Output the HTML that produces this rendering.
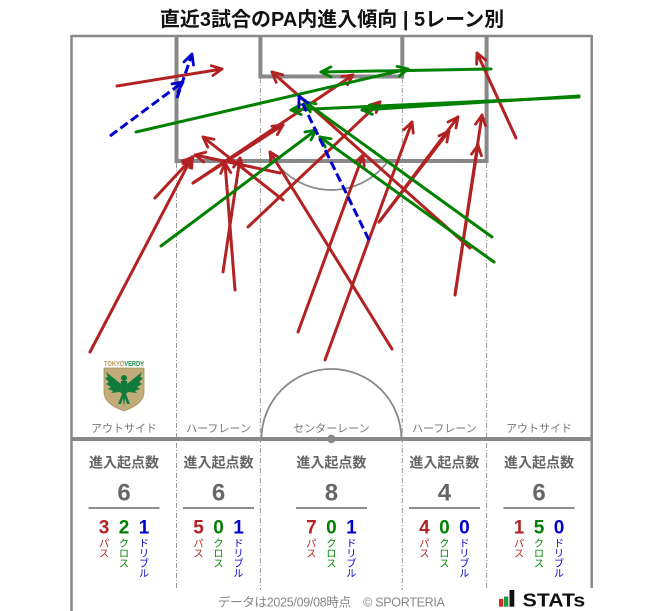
<!DOCTYPE html>
<html>
<head>
<meta charset="utf-8">
<style>
  html,body{margin:0;padding:0;background:#fff;}
  body{width:663px;height:611px;overflow:hidden;}
  svg{display:block;}
  .t{font-family:"Liberation Sans","Noto Sans CJK JP",sans-serif;}
</style>
</head>
<body>
<svg width="663" height="611" viewBox="0 0 663 611" xmlns="http://www.w3.org/2000/svg">
  <defs>
    <marker id="mr" viewBox="0 0 12 12" refX="11" refY="6" markerWidth="12" markerHeight="12" markerUnits="userSpaceOnUse" orient="auto" overflow="visible">
      <path d="M1,1 L11,6 L1,11" fill="none" stroke="#b22222" stroke-width="2.8" stroke-linecap="round" stroke-linejoin="round"/>
    </marker>
    <marker id="mg" viewBox="0 0 12 12" refX="11" refY="6" markerWidth="12" markerHeight="12" markerUnits="userSpaceOnUse" orient="auto" overflow="visible">
      <path d="M1,1 L11,6 L1,11" fill="none" stroke="#008000" stroke-width="2.8" stroke-linecap="round" stroke-linejoin="round"/>
    </marker>
    <marker id="mb" viewBox="0 0 12 12" refX="11" refY="6" markerWidth="12" markerHeight="12" markerUnits="userSpaceOnUse" orient="auto" overflow="visible">
      <path d="M1,1 L11,6 L1,11" fill="none" stroke="#0000cd" stroke-width="2.8" stroke-linecap="round" stroke-linejoin="round"/>
    </marker>
  </defs>

  <!-- Title -->
  <text class="t" x="332" y="26" text-anchor="middle" font-size="20" font-weight="bold" fill="#111">直近3試合のPA内進入傾向 | 5レーン別</text>

  <!-- lane dash-dot lines -->
  <g stroke="#9a9a9a" stroke-width="1" stroke-dasharray="5 2 1 2" fill="none">
    <line x1="176.5" y1="163" x2="176.5" y2="590"/>
    <line x1="260.4" y1="78" x2="260.4" y2="590"/>
    <line x1="402.3" y1="78" x2="402.3" y2="590"/>
    <line x1="486.6" y1="163" x2="486.6" y2="590"/>
  </g>

  <!-- pitch outline -->
  <g stroke="#888" fill="none">
    <line x1="71.5" y1="36" x2="591.7" y2="36" stroke-width="2.5"/>
    <line x1="71.5" y1="35" x2="71.5" y2="611" stroke-width="2.5"/>
    <line x1="591.7" y1="35" x2="591.7" y2="588" stroke-width="2.5"/>
    <path d="M176.5,36 V161 H486.6 V36" stroke-width="4"/>
    <path d="M260.4,36 V76.5 H402.3 V36" stroke-width="4"/>
    <path d="M274.7,161 A70,70 0 0 0 388.1,161" stroke-width="1.8"/>
    <line x1="71.5" y1="439" x2="591.7" y2="439" stroke-width="4"/>
    <path d="M261.4,439 A70,70 0 0 1 401.4,439" stroke-width="1.8"/>
  </g>
  <circle cx="331.4" cy="439" r="4.2" fill="#888"/>

  <!-- lane labels -->
  <g class="t" font-size="11" fill="#777" text-anchor="middle">
    <text x="124" y="432">アウトサイド</text>
    <text x="218.5" y="432">ハーフレーン</text>
    <text x="331.4" y="432">センターレーン</text>
    <text x="444.4" y="432">ハーフレーン</text>
    <text x="539" y="432">アウトサイド</text>
  </g>

  <!-- Tokyo Verdy crest -->
  <g>
    <text x="104" y="366" font-family="Liberation Sans, sans-serif" font-size="7.2" font-weight="bold" textLength="40" lengthAdjust="spacingAndGlyphs"><tspan fill="#b59a5a">TOKYO</tspan><tspan fill="#1f8f4a">VERDY</tspan></text>
    <path d="M104,368 L144,368 L144,392 Q144,404 124,411 Q104,404 104,392 Z" fill="#c2ad7a" stroke="#a8925c" stroke-width="0.8"/>
    <g fill="#0f7a3a">
      <circle cx="124" cy="378" r="3"/>
      <path d="M121,381 L127,381 L128,392 L124,396 L120,392 Z"/>
      <path d="M121,384 L106,372 L108,377 L105,378 L109,382 L106,384 L111,387 L108,389 L113,391 L111,393 L120,392 Z"/>
      <path d="M127,384 L142,372 L140,377 L143,378 L139,382 L142,384 L137,387 L140,389 L135,391 L137,393 L128,392 Z"/>
      <path d="M122,394 L118,404 L121,404 L123,398 L124,407 L125,398 L127,404 L130,404 L126,394 Z"/>
    </g>
  </g>

  <!-- Red passes -->
  <g stroke="#b22222" stroke-width="3" stroke-linecap="round" fill="none" marker-end="url(#mr)">
    <line x1="117" y1="86" x2="222" y2="69"/>
    <line x1="90" y1="352" x2="192" y2="157"/>
    <line x1="155" y1="198" x2="193" y2="157"/>
    <line x1="516" y1="138" x2="477" y2="53"/>
    <line x1="325" y1="360" x2="412" y2="122"/>
    <line x1="298" y1="332" x2="363" y2="155"/>
    <line x1="392" y1="349" x2="270" y2="152"/>
    <line x1="379" y1="222" x2="458" y2="117"/>
    <line x1="380" y1="221" x2="449" y2="131"/>
    <line x1="283" y1="200" x2="203" y2="137"/>
    <line x1="280" y1="173" x2="195" y2="155"/>
    <line x1="248" y1="227" x2="380" y2="102"/>
    <line x1="193" y1="183" x2="283" y2="125"/>
    <line x1="193" y1="183" x2="353" y2="75"/>
    <line x1="223" y1="272" x2="240" y2="158"/>
    <line x1="235" y1="290" x2="225" y2="163"/>
    <line x1="470" y1="248" x2="272" y2="72"/>
    <line x1="455" y1="295" x2="478" y2="145"/>
    <line x1="455" y1="295" x2="482" y2="115"/>
  </g>

  <!-- Green crosses -->
  <g stroke="#008000" stroke-width="3" stroke-linecap="round" fill="none" marker-end="url(#mg)">
    <line x1="136" y1="132" x2="408" y2="69"/>
    <line x1="161" y1="246" x2="316" y2="130"/>
    <line x1="491" y1="69" x2="321" y2="72"/>
    <line x1="579" y1="96" x2="362" y2="110"/>
    <line x1="579" y1="97" x2="291" y2="110"/>
    <line x1="492" y1="237" x2="305" y2="102"/>
    <line x1="494" y1="262" x2="320" y2="137"/>
  </g>

  <!-- Blue dribbles -->
  <g stroke="#0000cd" stroke-width="3" stroke-dasharray="9 4" fill="none" marker-end="url(#mb)">
    <line x1="110" y1="136" x2="183" y2="82"/>
    <line x1="177" y1="98" x2="192" y2="54"/>
    <line x1="369" y1="240" x2="299" y2="96"/>
  </g>

  <!-- Stats -->
  <g class="t" text-anchor="middle">
    <g font-size="14" font-weight="bold" fill="#666">
      <text x="124" y="467.5">進入起点数</text>
      <text x="218.5" y="467.5">進入起点数</text>
      <text x="331.4" y="467.5">進入起点数</text>
      <text x="444.4" y="467.5">進入起点数</text>
      <text x="539" y="467.5">進入起点数</text>
    </g>
    <g font-size="24" font-weight="bold" fill="#666">
      <text x="124" y="500.5">6</text>
      <text x="218.5" y="500.5">6</text>
      <text x="331.4" y="500.5">8</text>
      <text x="444.4" y="500.5">4</text>
      <text x="539" y="500.5">6</text>
    </g>
    <g stroke="#666" stroke-width="1.5">
      <line x1="88.5" y1="508" x2="159.5" y2="508"/>
      <line x1="183" y1="508" x2="254" y2="508"/>
      <line x1="296" y1="508" x2="367" y2="508"/>
      <line x1="409" y1="508" x2="480" y2="508"/>
      <line x1="503.5" y1="508" x2="574.5" y2="508"/>
    </g>
    <g font-size="19" font-weight="bold">
      <text x="104" y="533.5" fill="#b22222">3</text>
      <text x="124" y="533.5" fill="#008000">2</text>
      <text x="144" y="533.5" fill="#0000cd">1</text>

      <text x="198.5" y="533.5" fill="#b22222">5</text>
      <text x="218.5" y="533.5" fill="#008000">0</text>
      <text x="238.5" y="533.5" fill="#0000cd">1</text>

      <text x="311.4" y="533.5" fill="#b22222">7</text>
      <text x="331.4" y="533.5" fill="#008000">0</text>
      <text x="351.4" y="533.5" fill="#0000cd">1</text>

      <text x="424.4" y="533.5" fill="#b22222">4</text>
      <text x="444.4" y="533.5" fill="#008000">0</text>
      <text x="464.4" y="533.5" fill="#0000cd">0</text>

      <text x="519" y="533.5" fill="#b22222">1</text>
      <text x="539" y="533.5" fill="#008000">5</text>
      <text x="559" y="533.5" fill="#0000cd">0</text>
    </g>
    <g font-size="10">
      <!-- lane 1 -->
      <g fill="#b22222"><text x="104" y="547">パ</text><text x="104" y="557">ス</text></g>
      <g fill="#008000"><text x="124" y="547">ク</text><text x="124" y="557">ロ</text><text x="124" y="567">ス</text></g>
      <g fill="#0000cd"><text x="144" y="547">ド</text><text x="144" y="557">リ</text><text x="144" y="567">ブ</text><text x="144" y="577">ル</text></g>
      <!-- lane 2 -->
      <g fill="#b22222"><text x="198.5" y="547">パ</text><text x="198.5" y="557">ス</text></g>
      <g fill="#008000"><text x="218.5" y="547">ク</text><text x="218.5" y="557">ロ</text><text x="218.5" y="567">ス</text></g>
      <g fill="#0000cd"><text x="238.5" y="547">ド</text><text x="238.5" y="557">リ</text><text x="238.5" y="567">ブ</text><text x="238.5" y="577">ル</text></g>
      <!-- lane 3 -->
      <g fill="#b22222"><text x="311.4" y="547">パ</text><text x="311.4" y="557">ス</text></g>
      <g fill="#008000"><text x="331.4" y="547">ク</text><text x="331.4" y="557">ロ</text><text x="331.4" y="567">ス</text></g>
      <g fill="#0000cd"><text x="351.4" y="547">ド</text><text x="351.4" y="557">リ</text><text x="351.4" y="567">ブ</text><text x="351.4" y="577">ル</text></g>
      <!-- lane 4 -->
      <g fill="#b22222"><text x="424.4" y="547">パ</text><text x="424.4" y="557">ス</text></g>
      <g fill="#008000"><text x="444.4" y="547">ク</text><text x="444.4" y="557">ロ</text><text x="444.4" y="567">ス</text></g>
      <g fill="#0000cd"><text x="464.4" y="547">ド</text><text x="464.4" y="557">リ</text><text x="464.4" y="567">ブ</text><text x="464.4" y="577">ル</text></g>
      <!-- lane 5 -->
      <g fill="#b22222"><text x="519" y="547">パ</text><text x="519" y="557">ス</text></g>
      <g fill="#008000"><text x="539" y="547">ク</text><text x="539" y="557">ロ</text><text x="539" y="567">ス</text></g>
      <g fill="#0000cd"><text x="559" y="547">ド</text><text x="559" y="557">リ</text><text x="559" y="567">ブ</text><text x="559" y="577">ル</text></g>
    </g>
  </g>

  <!-- Footer -->
  <text class="t" x="331.4" y="606.5" text-anchor="middle" font-size="12.5" fill="#888" textLength="227" lengthAdjust="spacing">データは2025/09/08時点　© SPORTERIA</text>

  <!-- STATs logo -->
  <rect x="499" y="599" width="4.3" height="7.7" fill="#d42a2a"/>
  <rect x="504" y="596.5" width="4.3" height="10.2" fill="#1f9a3a"/>
  <rect x="509.5" y="590" width="4.8" height="16.7" fill="#111"/>
  <text x="522.7" y="606.7" font-family="Liberation Sans, sans-serif" font-size="18.5" font-weight="bold" fill="#111" textLength="62.5" lengthAdjust="spacingAndGlyphs">STATs</text>
</svg>
</body>
</html>
